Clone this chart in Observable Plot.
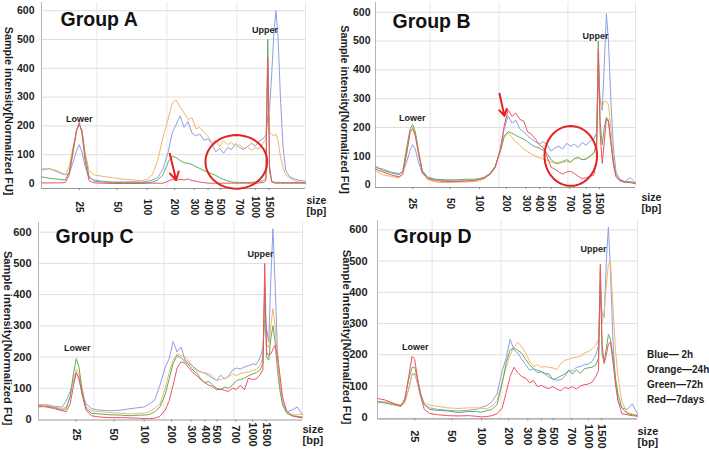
<!DOCTYPE html>
<html><head><meta charset="utf-8">
<script src="https://cdn.jsdelivr.net/npm/d3@7"></script>
<script src="https://cdn.jsdelivr.net/npm/@observablehq/plot@0.6"></script>
<style>
body{margin:0;background:#fff;font-family:"Liberation Sans",Arial,sans-serif;}
#wrap{position:relative;width:709px;height:450px;overflow:hidden;}
#legend{position:absolute;left:647px;top:346.5px;font:bold 10px "Liberation Sans",Arial,sans-serif;line-height:15px;color:#1e1e1e;white-space:nowrap;}
</style></head><body><div id="wrap"><div id="legend"></div></div>
<script>
// migration position (percent of the plotted run)
const position = [0,3,6,9,10.5,12,13.3,14.3,15.3,16.5,18,20,23,27,31,35,38,40,42,44,46,48,49.5,51,52.5,54,55.5,57,58.5,60,61.5,63,64.5,66,67.5,69,70.5,72,73.5,75,76.5,78,79.5,81,82.5,84,85,85.7,86.4,87.2,88,88.8,89.6,90.5,91.5,92.5,94,96,98,100];
const sizeLabels = ["25","50","100","200","300","400","500","700","1000","1500"];
const sizeTicks = [14.3,28.6,40,50.4,57.8,63.1,67.6,74.7,81.1,86.2];
const intensityTicks = [0,100,200,300,400,500,600];
const seriesNames = ["2h","24h","72h","7days"];
const legendLabels = ["Blue\u2014 2h","Orange\u201424h","Green\u201472h","Red\u20147days"];

const groupA_blue   = [46,52,40,30, 35,75,115,135,110,60,20, 12,8,5,5,6,5, 8,12,20,50,110, 175,205,235,195,215,175,165,172, 150,155,138,110,122,105,125,118, 138,125,118,128,140,130,148,155, 170,230,260,380,520,600,510,300, 127,46,23,15,10,8];
const groupA_orange = [52,50,45,30, 60,130,185,205,185,110,45, 30,25,20,15,12,10, 15,30,80,160,225, 280,290,265,245,222,228,190,195, 178,165,142,150,128,148,135,142, 128,135,122,128,115,125,120,140, 155,400,180,170,165,172,150,95, 55,30,20,8,5,3];
const groupA_green  = [23,18,15,12, 40,120,185,205,185,100,25, 8,5,4,3,3,3, 3,5,12,30,75, 95,90,80,72,70,66,58,52, 45,40,33,28,20,14,9,5, 4,3,4,3,4,5,6,10, 20,500,40,8,5,4,3,3, 3,3,3,3,3,3];
const groupA_red    = [2,2,2,3, 30,110,185,212,175,80,10, 2,1,0,0,0,0, 1,1,1,1,8, 14,10,15,12,16,10,8,5, 3,1,1,1,1,1,1,1, 1,1,1,1,1,1,2,3, 10,440,60,5,2,1,1,1, 1,1,1,1,1,1];

const groupB_blue   = [60,55,45,40, 45,80,120,140,125,80,40, 25,18,15,14,15,16, 20,25,35,60,120, 195,240,215,225,195,185,170,160, 150,142,150,140,118,128,135,125, 145,135,142,130,148,138,152,160, 180,360,300,260,420,595,500,300, 130,45,20,12,25,8];
const groupB_orange = [50,35,30,25, 35,110,180,200,180,120,50, 20,10,8,10,10,12, 15,22,38,62,115, 165,180,165,150,138,125,115,108, 100,95,90,86,80,75,80,78, 82,78,90,95,88,92,98,110, 140,420,290,270,290,290,280,200, 90,35,15,8,10,5];
const groupB_green  = [65,50,42,35, 50,130,195,210,185,120,50, 28,20,18,18,20,20, 22,28,40,65,118, 170,185,180,172,165,160,150,140, 132,128,120,110,88,78,74,82, 88,80,92,95,88,90,100,112, 140,500,220,140,200,235,225,150, 80,30,15,10,12,6];
const groupB_red    = [55,45,35,28, 40,110,185,195,170,110,45, 22,15,12,12,14,15, 20,25,38,60,125, 205,262,238,250,228,222,185,176, 160,140,130,98,62,55,45,38, 45,48,40,30,22,25,30,35, 80,470,180,75,150,230,220,150, 70,30,15,10,8,5];

const groupC_blue   = [45,48,42,40, 60,90,125,150,130,85,50, 35,30,28,30,35,38, 40,50,62,110,168, 195,250,216,232,190,180,170,160, 152,148,140,132,125,142,130,140, 158,165,162,168,172,178,176,200, 230,320,290,250,450,611,440,220, 110,55,25,30,40,15];
const groupC_orange = [50,45,40,35, 40,70,130,160,150,100,40, 28,25,22,20,18,20, 20,25,35,50,100, 150,190,210,205,200,185,168,155, 152,150,146,138,125,128,132,136, 146,140,148,150,152,157,160,175, 200,380,240,230,300,355,300,200, 110,50,25,15,15,18];
const groupC_green  = [40,42,38,30, 35,75,150,195,170,95,35, 20,18,15,14,12,14, 14,16,25,40,80, 130,180,205,198,185,175,158,148, 130,118,122,110,100,95,104,100, 110,125,128,132,140,145,150,160, 180,430,200,190,260,300,250,160, 90,45,20,12,10,8];
const groupC_red    = [45,40,35,28, 25,50,110,150,135,80,30, 12,8,6,6,5,4, 3,3,4,10,30, 60,110,165,185,180,165,150,140, 128,118,110,105,95,98,93,90, 100,96,110,95,132,128,130,145, 160,500,215,205,210,225,237,205, 140,70,28,12,8,5];

const groupD_blue   = [50,48,42,40, 50,90,135,140,110,70,40, 30,25,22,20,22,25, 32,37,50,75,150, 190,250,215,205,185,168,150,155, 142,145,138,128,122,118,120,130, 150,148,160,162,168,170,178,200, 230,400,330,320,500,609,470,256, 118,53,30,25,43,10];
const groupD_orange = [45,50,45,38, 45,90,140,140,115,70,45, 38,35,30,28,30,30, 28,27,35,53,115, 160,200,225,240,225,205,180,162, 168,160,162,160,158,152,172,182, 185,190,192,195,205,210,218,230, 250,420,300,340,420,490,500,360, 220,130,50,15,10,6];
const groupD_green  = [50,45,40,35, 60,120,160,160,125,80,40, 25,22,20,15,18,18, 16,21,25,40,110, 175,215,222,214,205,185,168,155, 150,146,140,138,120,125,132,138, 150,138,152,140,155,158,160,168, 190,470,200,175,220,265,250,200, 128,75,30,12,8,5];
const groupD_red    = [60,55,45,35, 55,130,195,185,130,70,25, 12,8,5,4,5,3, 1,2,5,11,30, 80,130,160,142,130,125,110,118, 98,102,95,92,98,90,85,95, 92,98,90,100,104,106,112,130, 150,490,230,172,200,235,240,182, 107,53,11,8,5,3];

// ---- presentation ----
const seriesColors = ["#8d9fe6","#f6b567","#5fae60","#ef5364"];
const gridPositions = [21,47.5,74,100];
const labelOf = new Map(sizeTicks.map((t,i)=>[t,sizeLabels[i]]));
const FONT = "'Liberation Sans', Arial, sans-serif";
const RED = "#e2231f";

const panels = [
  {title:"Group A", series:[groupA_blue,groupA_orange,groupA_green,groupA_red], left:0, top:0, width:340, height:215,
   ml:41, mr:35, mt:2, mb:27, yDomain:[-17.4,628.5], yPad:7, tickFont:10, xOff:18.5, titleDy:10, titleDx:19,
   yTitleDx:-33, yTitleDy:15.5, lower:[14.3,222], upper:[84.7,531], sizeDx:1, sizeDy:8, labFont:10, yTitleFont:10.8,
   ellipse:{cx:73.8, cy:75, rx:11.7, ry:93}, arrow:{x1:48.6,y1:103,x2:51,y2:12}},
  {title:"Group B", series:[groupB_blue,groupB_orange,groupB_green,groupB_red], left:338, top:0, width:371, height:215,
   ml:37, mr:74, mt:2, mb:28, yDomain:[-8.7,634], yPad:5, tickFont:10, xOff:16, titleDy:11.3, titleDx:17,
   yTitleDx:-31.5, yTitleDy:14.5, lower:[14.1,233], upper:[84.6,517], sizeDx:6, sizeDy:6, labFont:10, yTitleFont:10.8,
   ellipse:{cx:75.1, cy:101, rx:10.1, ry:104}, arrow:{x1:47.7,y1:317,x2:49.6,y2:240}},
  {title:"Group C", series:[groupC_blue,groupC_orange,groupC_green,groupC_red], left:0, top:220, width:340, height:230,
   ml:38, mr:38, mt:2, mb:30.5, yDomain:[-1.6,631], yPad:7, tickFont:11, xOff:14.5, titleDy:7, titleDx:17,
   yTitleDx:-30.5, yTitleDy:17, lower:[14.7,229], upper:[84.1,530], sizeDx:0, sizeDy:4.5, labFont:10.5, yTitleFont:11.2},
  {title:"Group D", series:[groupD_blue,groupD_orange,groupD_green,groupD_red], left:338, top:220, width:371, height:230,
   ml:39, mr:72, mt:0, mb:31.7, yDomain:[-5.1,630], yPad:10, tickFont:11, xOff:17.5, titleDy:9, titleDx:16,
   yTitleDx:-30.5, yTitleDy:17.5, lower:[14.5,225], upper:[83.1,539], sizeDx:0, sizeDy:7.5, labFont:10.5, yTitleFont:11.2}
];

function drawPanel(p){
  const rows = [];
  p.series.forEach((vals,i)=>vals.forEach((v,j)=>rows.push({t:position[j], v, s:seriesNames[i]})));
  const marks = [
    Plot.gridY(intensityTicks.filter(d=>d>0), {stroke:"#dedede", strokeOpacity:1}),
    Plot.gridX(gridPositions, {stroke:"#e6e6e6", strokeOpacity:1}),
    Plot.ruleX([0], {stroke:"#b5b5b5"}),
    Plot.ruleY([p.yDomain[0]], {stroke:"#9a9a9a", strokeWidth:1.2}),
    Plot.axisY(intensityTicks, {anchor:"left", tickSize:0, tickPadding:p.yPad, fontSize:p.labFont+0.5, fontWeight:"bold", fill:"#1e1e1e", label:null}),
    Plot.axisX(sizeTicks, {anchor:"bottom", tickSize:2, tickPadding:p.xOff-2, tickRotate:90, textAnchor:"middle",
      tickFormat:d=>labelOf.get(d), fontSize:p.tickFont, fontWeight:"bold", fill:"#1e1e1e", stroke:"#888", label:null}),
    Plot.line(rows, {x:"t", y:"v", z:"s", stroke:"s", strokeWidth:1}),
    Plot.text([p.title], {frameAnchor:"top-left", dx:p.titleDx, dy:p.titleDy, textAnchor:"start", lineAnchor:"top",
      fontSize:19.5, fontWeight:"bold", fill:"#111"}),
    Plot.text(["Sample intensity[Normalized FU]"], {frameAnchor:"left", rotate:90, dx:p.yTitleDx, dy:p.yTitleDy,
      textAnchor:"middle", lineAnchor:"middle", fontSize:p.yTitleFont, fontWeight:"bold", fill:"#1e1e1e"}),
    Plot.text(["Lower"], {x:[p.lower[0]], y:[p.lower[1]], fontSize:9, fontWeight:"bold", fill:"#1e1e1e"}),
    Plot.text(["Upper"], {x:[p.upper[0]], y:[p.upper[1]], fontSize:9, fontWeight:"bold", fill:"#1e1e1e"}),
    Plot.text(["size\n[bp]"], {frameAnchor:"bottom-right", dx:p.sizeDx, dy:p.sizeDy, textAnchor:"start", lineAnchor:"top",
      lineHeight:1.05, fontSize:p.labFont+0.5, fontWeight:"bold", fill:"#1e1e1e"})
  ];
  if (p.ellipse){
    const e = p.ellipse;
    const pts = d3.range(0,361,6).map(a=>({x:e.cx+e.rx*Math.cos(a*Math.PI/180), y:e.cy+e.ry*Math.sin(a*Math.PI/180)}));
    marks.push(Plot.line(pts, {x:"x", y:"y", stroke:RED, strokeWidth:2}));
  }
  if (p.arrow){
    marks.push(Plot.arrow([p.arrow], {x1:"x1", y1:"y1", x2:"x2", y2:"y2", stroke:RED, strokeWidth:2, headLength:7}));
  }
  const svg = Plot.plot({
    width:p.width, height:p.height,
    marginLeft:p.ml, marginRight:p.mr, marginTop:p.mt, marginBottom:p.mb,
    style:{fontFamily:FONT, background:"transparent", overflow:"visible"},
    x:{domain:[0,100], label:null},
    y:{domain:p.yDomain, label:null},
    color:{type:"ordinal", domain:seriesNames, range:seriesColors},
    marks
  });
  svg.style.position = "absolute";
  svg.style.left = p.left + "px";
  svg.style.top = p.top + "px";
  document.getElementById("wrap").appendChild(svg);
}
panels.forEach(drawPanel);
document.getElementById("legend").innerHTML = legendLabels.map(t=>`<div>${t}</div>`).join("");
</script></body></html>
